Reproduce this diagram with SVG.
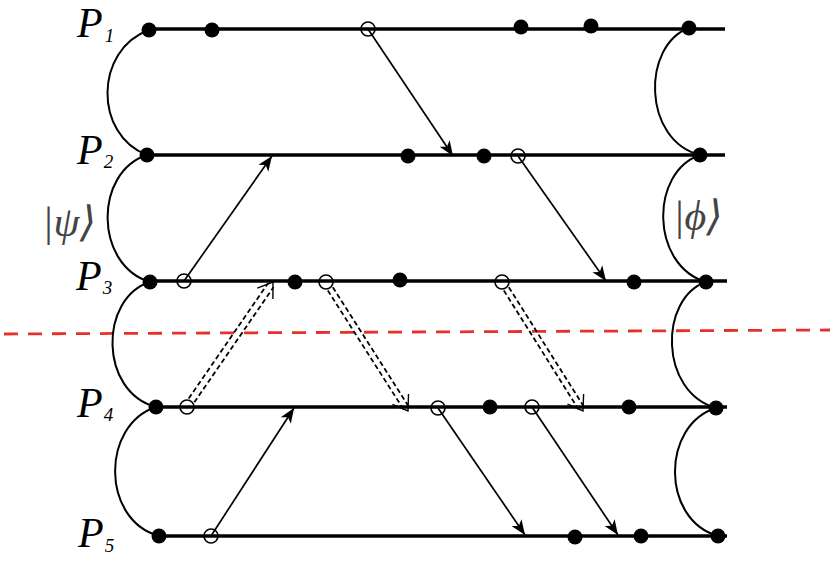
<svg xmlns="http://www.w3.org/2000/svg" width="830" height="561" viewBox="0 0 830 561">
<style>
.wl{stroke:#000;stroke-width:3.5;fill:none}
.dot{fill:#000}
.oc{fill:none;stroke:#000;stroke-width:1.6}
.cv{stroke:#000;stroke-width:2;fill:none}
.ar{stroke:#000;stroke-width:1.7;fill:none;marker-end:url(#ah)}
.dl{stroke:#000;stroke-width:1.8;fill:none;stroke-dasharray:5 3}
.dv{stroke:none;fill:none;marker-end:url(#ov)}
.lbl{font-family:"Liberation Serif","Times New Roman",serif;font-style:italic;fill:#000;font-size:42px}
.sub{font-size:19px}
.ket{font-family:"Liberation Serif","DejaVu Serif",serif;font-style:italic;fill:#444;font-size:42px}
</style>
<defs>
<marker id="ah" markerUnits="userSpaceOnUse" markerWidth="20" markerHeight="20" refX="0" refY="0" orient="auto" overflow="visible">
<path d="M0,0 L-15,-6 L-11,0 L-15,6 Z" fill="#000"/>
</marker>
<marker id="ov" markerUnits="userSpaceOnUse" markerWidth="20" markerHeight="20" refX="0" refY="0" orient="auto" overflow="visible">
<path d="M-14,-9.5 L0,0 L-14,9.5" fill="none" stroke="#000" stroke-width="1.4"/>
</marker>
</defs>

<line id="cut" x1="4" y1="334" x2="830" y2="330" stroke="#e8302a" stroke-width="2.8" stroke-dasharray="14 10"/>

<g id="psi">
<path class="cv" d="M149,30 C94,50 94,135 147,155"/>
<path class="cv" d="M147,155 C94,172 94,265 150,282"/>
<path class="cv" d="M150,282 C99,298 99,392 156,407"/>
<path class="cv" d="M156,407 C101,425 101,520 159,536"/>
<text class="ket" x="42" y="236">|ψ⟩</text>
</g>
<g id="phi">
<path class="cv" d="M689,28 C642,45 642,140 700,155"/>
<path class="cv" d="M700,155 C650,172 650,265 706,282"/>
<path class="cv" d="M706,282 C659,298 659,392 716,408"/>
<path class="cv" d="M716,408 C661,425 661,520 718,536"/>
<text class="ket" x="673" y="230">|ϕ⟩</text>
</g>

<g id="P1">
<line class="wl" x1="148" y1="29" x2="725" y2="29"/>
<text class="lbl" x="77" y="37">P<tspan class="sub" dx="2" dy="5">1</tspan></text>
<circle class="dot" cx="149" cy="30" r="7.5"/><circle class="dot" cx="212" cy="30" r="7.5"/>
<circle class="oc" cx="368" cy="29" r="7"/>
<circle class="dot" cx="521" cy="27" r="7.5"/><circle class="dot" cx="591" cy="26" r="7.5"/><circle class="dot" cx="689" cy="28" r="7.5"/>
</g>
<g id="P2">
<line class="wl" x1="147" y1="155" x2="725" y2="155"/>
<text class="lbl" x="77" y="164">P<tspan class="sub" dx="1" dy="4">2</tspan></text>
<circle class="dot" cx="147" cy="155" r="7.5"/><circle class="dot" cx="408" cy="156" r="7.5"/><circle class="dot" cx="484" cy="156" r="7.5"/>
<circle class="oc" cx="518" cy="156" r="7"/>
<circle class="dot" cx="700" cy="155" r="7.5"/>
</g>
<g id="P3">
<line class="wl" x1="150" y1="281" x2="727" y2="281"/>
<text class="lbl" x="76" y="290">P<tspan class="sub" dx="1" dy="4">3</tspan></text>
<circle class="dot" cx="150" cy="282" r="7.5"/>
<circle class="oc" cx="184" cy="281" r="7"/>
<circle class="dot" cx="295" cy="282" r="7.5"/>
<circle class="oc" cx="326" cy="282" r="7"/>
<circle class="dot" cx="400" cy="280" r="7.5"/>
<circle class="oc" cx="502" cy="282" r="7"/>
<circle class="dot" cx="634" cy="282" r="7.5"/><circle class="dot" cx="706" cy="282" r="7.5"/>
</g>
<g id="P4">
<line class="wl" x1="155" y1="407" x2="727" y2="407"/>
<text class="lbl" x="77" y="417">P<tspan class="sub" dx="1" dy="4">4</tspan></text>
<circle class="dot" cx="156" cy="407" r="7.5"/>
<circle class="oc" cx="187" cy="407" r="7"/>
<circle class="oc" cx="438" cy="408" r="7"/>
<circle class="dot" cx="490" cy="407" r="7.5"/>
<circle class="oc" cx="532" cy="407" r="7"/>
<circle class="dot" cx="629" cy="407" r="7.5"/><circle class="dot" cx="716" cy="408" r="7.5"/>
</g>
<g id="P5">
<line class="wl" x1="158" y1="536" x2="727" y2="536"/>
<text class="lbl" x="78" y="547">P<tspan class="sub" dx="1" dy="5">5</tspan></text>
<circle class="dot" cx="159" cy="536" r="7.5"/>
<circle class="oc" cx="211" cy="536" r="7"/>
<circle class="dot" cx="575" cy="537" r="7.5"/><circle class="dot" cx="641" cy="536" r="7.5"/><circle class="dot" cx="718" cy="536" r="7.5"/>
</g>

<g id="connectors">
<line class="ar" x1="368" y1="29" x2="453" y2="156"/>
<line class="ar" x1="518" y1="156" x2="606" y2="281"/>
<line class="ar" x1="184" y1="281" x2="272" y2="156"/>
<line class="ar" x1="211" y1="536" x2="294" y2="408"/>
<line class="ar" x1="438" y1="408" x2="525" y2="535"/>
<line class="ar" x1="532" y1="407" x2="618" y2="535"/>

<line class="dl" x1="194.3" y1="402.3" x2="273.5" y2="287.2"/>
<line class="dl" x1="188.7" y1="398.5" x2="267.9" y2="283.4"/>
<line class="dv" x1="187" y1="407" x2="273" y2="282"/>

<line class="dl" x1="332.8" y1="287.2" x2="408.4" y2="406.0"/>
<line class="dl" x1="327.8" y1="290.4" x2="403.4" y2="409.2"/>
<line class="dv" x1="326" y1="282" x2="408" y2="411"/>

<line class="dl" x1="508.8" y1="287.2" x2="583.4" y2="406.0"/>
<line class="dl" x1="503.8" y1="290.4" x2="578.4" y2="409.2"/>
<line class="dv" x1="502" y1="282" x2="583" y2="411"/>
</g>
</svg>
